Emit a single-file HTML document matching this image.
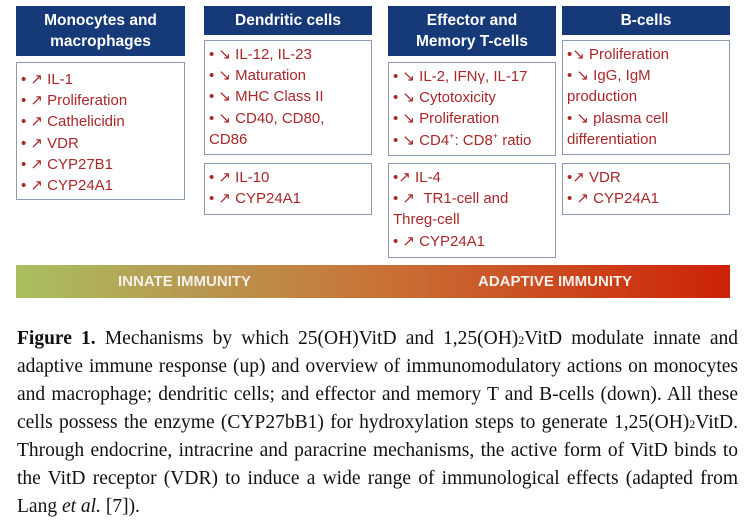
<!DOCTYPE html>
<html><head><meta charset="utf-8"><style>
body{margin:0;width:753px;height:525px;background:#fff;position:relative;overflow:hidden;font-family:"Liberation Sans","DejaVu Sans",sans-serif}
.h{position:absolute;background:#163a78;color:#fff;font-weight:bold;font-size:15.5px;text-align:center;line-height:21px;display:flex;align-items:center;justify-content:center;box-sizing:border-box}
.b{position:absolute;border:1.5px solid #8a9bb5;box-sizing:border-box;color:#a8282a;font-size:15px;line-height:21.2px;padding:3px 4px}
.bar{position:absolute;left:16px;top:265px;width:714px;height:33px;background:linear-gradient(90deg,#a8c060 0%,#b89850 25%,#c87438 50%,#cc4a20 75%,#cc2208 100%)}
.bt{position:absolute;top:0;line-height:33px;color:#f4f0ea;font-weight:bold;font-size:15px}
.cap{position:absolute;left:17px;top:325px;width:721px;font-family:"Liberation Serif",serif;font-size:19.5px;color:#111}
.cap div{height:28px;line-height:28px;overflow:visible;text-align:justify;text-align-last:justify;white-space:nowrap}
.cap div.l{text-align-last:left}
.s{font-size:12px;line-height:0}
</style></head><body>
<div class="h" style="left:16px;top:6px;width:169px;height:50px">Monocytes and<br>macrophages</div>
<div class="b" style="left:16px;top:62px;width:169px;height:138px;padding-top:6px">• ↗ IL-1<br>• ↗ Proliferation<br>• ↗ Cathelicidin<br>• ↗ VDR<br>• ↗ CYP27B1<br>• ↗ CYP24A1</div>

<div class="h" style="left:204px;top:6px;width:168px;height:29px">Dendritic cells</div>
<div class="b" style="left:204px;top:40px;width:168px;height:115px">• ↘ IL-12, IL-23<br>• ↘ Maturation<br>• ↘ MHC Class II<br>• ↘ CD40, CD80,<br>CD86</div>
<div class="b" style="left:204px;top:163px;width:168px;height:52px">• ↗ IL-10<br>• ↗ CYP24A1</div>

<div class="h" style="left:388px;top:6px;width:168px;height:50px">Effector and<br>Memory T-cells</div>
<div class="b" style="left:388px;top:62px;width:168px;height:94px">• ↘ IL-2, IFNγ, IL-17<br>• ↘ Cytotoxicity<br>• ↘ Proliferation<br>• ↘ CD4<sup style="font-size:9px;line-height:0">+</sup>: CD8<sup style="font-size:9px;line-height:0">+</sup> ratio</div>
<div class="b" style="left:388px;top:163px;width:168px;height:95px">•↗ IL-4<br>• ↗ &nbsp;TR1-cell and<br>Threg-cell<br>• ↗ CYP24A1</div>

<div class="h" style="left:562px;top:6px;width:168px;height:29px">B-cells</div>
<div class="b" style="left:562px;top:40px;width:168px;height:115px">•↘ Proliferation<br>• ↘ IgG, IgM<br>production<br>• ↘ plasma cell<br>differentiation</div>
<div class="b" style="left:562px;top:163px;width:168px;height:52px">•↗ VDR<br>• ↗ CYP24A1</div>

<div class="bar"><span class="bt" style="left:102px">INNATE IMMUNITY</span><span class="bt" style="left:462px">ADAPTIVE IMMUNITY</span></div>

<div class="cap">
<div><b>Figure 1.</b> Mechanisms by which 25(OH)VitD and 1,25(OH)<span class="s">2</span>VitD modulate innate and</div>
<div>adaptive immune response (up) and overview of immunomodulatory actions on monocytes</div>
<div>and macrophage; dendritic cells; and effector and memory T and B-cells (down). All these</div>
<div>cells possess the enzyme (CYP27bB1) for hydroxylation steps to generate 1,25(OH)<span class="s">2</span>VitD.</div>
<div>Through endocrine, intracrine and paracrine mechanisms, the active form of VitD binds to</div>
<div>the VitD receptor (VDR) to induce a wide range of immunological effects (adapted from</div>
<div class="l">Lang <i>et al.</i> [7]).</div>
</div>
</body></html>
